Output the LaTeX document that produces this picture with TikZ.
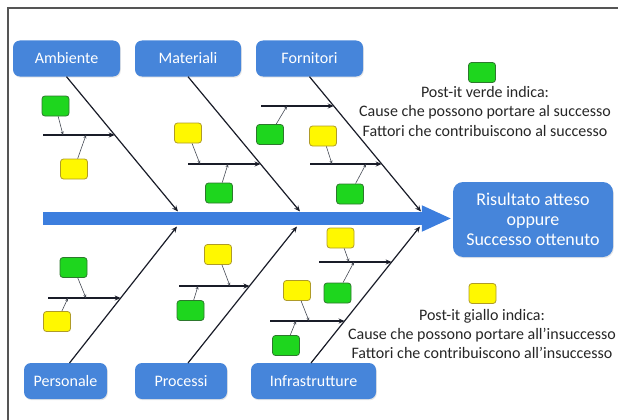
\documentclass[tikz,border=0pt]{standalone}
\usepackage{fontspec}
\setmainfont{Carlito}
\usetikzlibrary{arrows.meta,shadows}

\definecolor{boxblue}{RGB}{70,133,218}
\definecolor{spineblue}{RGB}{60,126,222}
\definecolor{bonecol}{RGB}{25,28,40}
\definecolor{notegreen}{RGB}{30,214,30}
\definecolor{notegreenedge}{RGB}{45,120,45}
\definecolor{noteyellow}{RGB}{255,248,0}
\definecolor{noteyellowedge}{RGB}{175,155,40}
\definecolor{framegray}{RGB}{85,85,85}
\definecolor{linkgray}{RGB}{70,75,85}

\begin{document}
\begin{tikzpicture}[x=1pt,y=-1pt,
  category/.style={rectangle, rounded corners=7pt, fill=boxblue, text=white,
    minimum height=36pt, inner sep=0pt, font=\fontsize{16}{19}\selectfont,
    drop shadow={opacity=0.2, shadow xshift=0.8pt, shadow yshift=-1.2pt}},
  outcome/.style={rectangle, rounded corners=10pt, fill=boxblue, text=white,
    minimum width=160pt, minimum height=75pt, inner sep=0pt, align=center,
    font=\fontsize{18}{20}\selectfont,
    drop shadow={opacity=0.2, shadow xshift=0.8pt, shadow yshift=-1.2pt}},
  spine/.style={draw=spineblue, line width=13pt,
    -{Triangle[length=30pt 0 0,width=24pt 0 0]}},
  bone/.style={draw=bonecol, line width=1.2pt, -{Stealth[length=6pt,width=5pt]}},
  sub/.style={draw=bonecol, line width=1.8pt, -{Stealth[length=6pt,width=5pt]}},
  link/.style={draw=linkgray, line width=0.6pt, -{Stealth[length=3.5pt,width=3pt]}},
  note/.style={rectangle, rounded corners=3pt, minimum width=27pt,
    minimum height=20pt, line width=0.8pt, inner sep=0pt},
  greennote/.style={note, fill=notegreen, draw=notegreenedge},
  yellownote/.style={note, fill=noteyellow, draw=noteyellowedge},
  legend/.style={align=center, font=\fontsize{16}{19.5}\selectfont, text=black!85}
]
\useasboundingbox (0,0) rectangle (618,420);

% frame edges
\draw[framegray, line width=1.2pt] (8,420) -- (8,8) -- (618,8);

% category boxes
\node[category, minimum width=107pt] (amb)   at (66.5,58.5) {Ambiente};
\node[category, minimum width=106pt] (mat)   at (188,58.5)  {Materiali};
\node[category, minimum width=107pt] (forn)  at (309.5,58.5) {Fornitori};
\node[category, minimum width=83pt]  (pers)  at (65.5,381) {Personale};
\node[category, minimum width=92pt]  (proc)  at (181,381)  {Processi};
\node[category, minimum width=125pt] (infra) at (313.5,381) {Infrastrutture};

% outcome
\node[outcome] (res) at (533,219.5) {Risultato atteso\\oppure\\Successo ottenuto};

% spine
\coordinate (s0) at (43,218.5);
\draw[spine] (s0) -- ([xshift=-1pt]res.west |- s0);

% main bones
\coordinate (ta) at (178,211.5);
\coordinate (tm) at (300,211.5);
\coordinate (tf) at (421,211.5);
\coordinate (bp0) at (69.5,363);
\coordinate (bq0) at (188,363);
\coordinate (bi0) at (311,363);
\coordinate (tp) at (177,226.5);
\coordinate (tq) at (297,226.5);
\coordinate (ti) at (420,226.5);
\draw[bone] (amb.south) -- (ta);
\draw[bone] (mat.south) -- (tm);
\draw[bone] (forn.south) -- (tf);
\draw[bone] (bp0) -- (tp);
\draw[bone] (bq0) -- (tq);
\draw[bone] (bi0) -- (ti);

% sub-bones
\coordinate (a0) at (43,135);   \coordinate (a1) at (intersection of amb.south--ta and 0,135--600,135);
\coordinate (m0) at (188,164);  \coordinate (m1) at (intersection of mat.south--tm and 0,164--600,164);
\coordinate (f0) at (261,106);  \coordinate (f1) at (intersection of forn.south--tf and 0,106--600,106);
\coordinate (f2) at (310,164);  \coordinate (f3) at (intersection of forn.south--tf and 0,164--600,164);
\coordinate (p0) at (48,298);   \coordinate (p1) at (intersection of bp0--tp and 0,298--600,298);
\coordinate (q0) at (179,286);  \coordinate (q1) at (intersection of bq0--tq and 0,286--600,286);
\coordinate (i0) at (319,262);  \coordinate (i1) at (intersection of bi0--ti and 0,262--600,262);
\coordinate (i2) at (270,321);  \coordinate (i3) at (intersection of bi0--ti and 0,321--600,321);
\draw[sub] (a0) -- (a1);
\draw[sub] (m0) -- (m1);
\draw[sub] (f0) -- (f1);
\draw[sub] (f2) -- (f3);
\draw[sub] (p0) -- (p1);
\draw[sub] (q0) -- (q1);
\draw[sub] (i0) -- (i1);
\draw[sub] (i2) -- (i3);

% post-it notes
\node[greennote]  (g1) at (55.5,106) {};
\node[yellownote] (y1) at (74,169) {};
\node[yellownote] (y2) at (188,133) {};
\node[greennote]  (g2) at (219,193) {};
\node[greennote]  (g3) at (270,134.5) {};
\node[yellownote] (y3) at (323,136) {};
\node[greennote]  (g4) at (350,194) {};
\node[greennote]  (g5) at (73.5,267.5) {};
\node[yellownote] (y5) at (57,321.5) {};
\node[yellownote] (y6) at (218,254.5) {};
\node[greennote]  (g6) at (190.5,310.5) {};
\node[yellownote] (y7) at (340.5,238) {};
\node[greennote]  (g7) at (337.5,293) {};
\node[yellownote] (y8) at (297,290.5) {};
\node[greennote]  (g8) at (286,345.5) {};

% note links onto the sub-bones
\coordinate (ag) at (63,135);  \coordinate (ay) at (86,135);
\coordinate (my) at (200,164); \coordinate (mg) at (228,164);
\coordinate (fg) at (287,106); \coordinate (fy) at (332,164);
\coordinate (fh) at (366,164);
\coordinate (pg) at (86,298);  \coordinate (py) at (68,298);
\coordinate (qy) at (230,286); \coordinate (qg) at (198,286);
\coordinate (iy) at (349,262); \coordinate (ig) at (354,262);
\coordinate (jy) at (309,321); \coordinate (jg) at (296,321);
\draw[link] (g1) -- (ag);
\draw[link] (y1) -- (ay);
\draw[link] (y2) -- (my);
\draw[link] (g2) -- (mg);
\draw[link] (g3) -- (fg);
\draw[link] (y3) -- (fy);
\draw[link] (g4) -- (fh);
\draw[link] (g5) -- (pg);
\draw[link] (y5) -- (py);
\draw[link] (y6) -- (qy);
\draw[link] (g6) -- (qg);
\draw[link] (y7) -- (iy);
\draw[link] (g7) -- (ig);
\draw[link] (y8) -- (jy);
\draw[link] (g8) -- (jg);

% legend
\node[greennote]  (lg) at (482,72.5) {};
\node[legend] (lgt) at (485,111.5) {Post-it verde indica:\\Cause che possono portare al successo\\Fattori che contribuiscono al successo};
\node[yellownote] (ly) at (482.5,293.5) {};
\node[legend] (lyt) at (482,334) {Post-it giallo indica:\\Cause che possono portare all’insuccesso\\Fattori che contribuiscono all’insuccesso};
\end{tikzpicture}
\end{document}
